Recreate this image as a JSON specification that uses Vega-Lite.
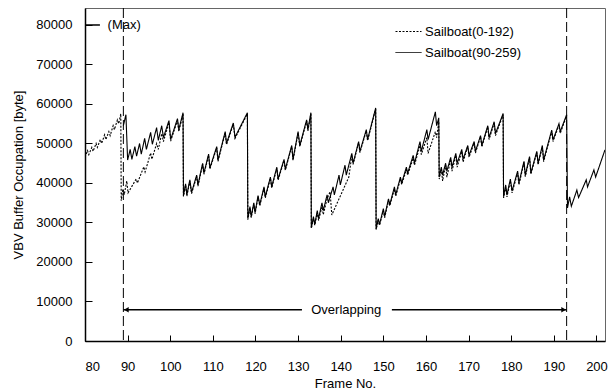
{
  "$schema": "https://vega.github.io/schema/vega-lite/v6.json",
  "autosize": "none",
  "width": 520,
  "height": 333,
  "padding": {"left": 85, "top": 8, "right": 5, "bottom": 51},
  "background": "white",
  "config": {
    "font": "Liberation Sans",
    "view": {"stroke": "#666", "strokeWidth": 1},
    "axis": {"domainColor": "black", "domainWidth": 1.5, "tickColor": "black", "labelColor": "black", "titleColor": "black", "labelFontSize": 13, "titleFontSize": 13, "titleFontWeight": "normal", "grid": false}
  },
  "datasets": {
    "trace": [
      {"f":80,"d":46500},{"f":80.6,"d":48200},{"f":80.9,"d":47200},{"f":81.6,"d":49000},{"f":81.9,"d":48000},{"f":82.6,"d":50000},{"f":82.9,"d":49000},{"f":83.6,"d":51000},{"f":83.9,"d":50000},{"f":84.6,"d":52200},{"f":84.9,"d":51000},{"f":85.6,"d":53000},{"f":85.9,"d":52000},{"f":86.6,"d":54500},{"f":86.9,"d":53500},{"f":87.6,"d":56000},{"f":87.9,"d":55000},{"f":88.4,"d":57500},{"f":88.5,"d":35500},{"f":88.9,"d":38500},{"f":89.0,"s":54500},{"f":89.2,"d":37000},{"f":89.6,"s":57300},{"f":89.8,"d":40500},{"f":90.0,"s":45800},{"f":90.1,"d":37500},{"f":90.6,"s":48500},{"f":91.0,"s":46000},{"f":91.7,"s":49200},{"f":92.0,"d":41000},{"f":92.1,"s":46800},{"f":92.3,"d":40000},{"f":92.8,"s":50000},{"f":93.2,"s":47300},{"f":93.8,"d":44100},{"f":94.0,"s":51300},{"f":94.1,"d":42800},{"f":94.4,"s":48500},{"f":95.4,"s":52800,"d":47600},{"f":95.7,"d":46000},{"f":95.8,"s":49800},{"f":96.8,"s":54000,"d":50000},{"f":97.2,"s":50800,"d":48500},
      {"f":98.0,"s":54500,"d":52500},{"f":98.4,"s":51500,"d":50500},{"f":99.7,"s":55800,"d":55300},{"f":100.1,"s":51000,"d":50600},{"f":101.7,"s":56300,"d":55900},{"f":102.0,"s":53500,"d":53000},{"f":103.0,"s":57800,"d":57500},{"f":103.1,"s":36800,"d":36600},
      {"f":103.6,"s":39800,"d":39500},{"f":103.9,"s":37000,"d":36700},{"f":104.6,"s":40800,"d":40500},{"f":105.0,"s":37600,"d":37300},{"f":106.2,"s":42000,"d":41700},{"f":106.5,"s":39500,"d":39200},{"f":107.6,"s":45000,"d":44700},{"f":107.9,"s":42500,"d":42200},{"f":109.0,"s":47300,"d":47000},{"f":109.3,"s":43800,"d":43500},{"f":110.9,"s":49200,"d":48900},{"f":111.2,"s":45800,"d":45500},{"f":112.9,"s":53000,"d":52700},{"f":113.2,"s":50000,"d":49700},{"f":114.8,"s":55200,"d":54900},{"f":115.2,"s":51600,"d":51300},{"f":118.1,"s":57800,"d":57500},{"f":118.2,"s":31000,"d":30700},
      {"f":118.7,"s":34000,"d":33700},{"f":119.0,"s":31500,"d":31200},{"f":119.6,"s":35000,"d":34700},{"f":119.9,"s":32500,"d":32200},{"f":120.6,"s":36800,"d":36500},{"f":121.0,"s":34500,"d":34200},{"f":122.0,"s":39000,"d":38700},{"f":122.3,"s":36500,"d":36200},{"f":123.5,"s":41500,"d":41200},{"f":123.8,"s":39000,"d":38700},{"f":125.0,"s":44000,"d":43700},{"f":125.3,"s":41000,"d":40700},{"f":126.7,"s":46000,"d":45700},{"f":127.0,"s":43500,"d":43200},{"f":128.5,"s":49500,"d":49200},{"f":128.8,"s":46000,"d":45700},{"f":130.0,"s":53000,"d":52700},{"f":130.4,"s":49500,"d":49200},{"f":132.0,"s":56000,"d":55700},{"f":132.3,"s":53500,"d":53200},{"f":133.0,"s":57800,"d":57500},{"f":133.1,"s":28700,"d":28500},
      {"f":133.6,"s":31500,"d":31000},{"f":133.9,"s":29500,"d":29300},{"f":134.5,"s":33000,"d":32500},{"f":134.8,"s":31000,"d":30500},{"f":135.6,"s":35000,"d":34000},{"f":135.9,"s":33000,"d":32000},{"f":136.8,"s":37000,"d":36000},{"f":137.1,"s":35000},{"f":137.5,"d":37800},{"f":137.9,"d":31900},{"f":138.2,"s":39000},{"f":138.5,"s":37000},{"f":139.6,"s":42000},{"f":139.9,"s":39500},{"f":141.0,"s":44500},{"f":141.3,"s":42000},{"f":141.9,"d":41500},{"f":142.6,"s":47500,"d":47000},{"f":142.9,"s":45000,"d":44700},{"f":144.2,"s":50500,"d":50200},{"f":144.5,"s":48000,"d":47700},{"f":146.0,"s":53500,"d":53200},{"f":146.3,"s":51000,"d":50700},{"f":148.2,"s":59000,"d":58700},{"f":148.3,"s":28400,"d":28200},
      {"f":148.8,"s":31000,"d":30600},{"f":149.1,"s":29500,"d":29300},{"f":150.0,"s":33500,"d":33000},{"f":150.3,"s":31500,"d":31200},{"f":151.2,"s":36000,"d":35500},{"f":151.5,"s":34500,"d":34200},{"f":152.6,"s":39000,"d":38500},{"f":152.9,"s":37000,"d":36600},{"f":154.0,"s":41500,"d":41000},{"f":154.3,"s":40000,"d":39600},{"f":155.4,"s":44000,"d":43400},{"f":155.7,"s":42500,"d":42000},{"f":157.0,"s":47000,"d":46300},{"f":157.3,"s":45000,"d":44500},{"f":158.6,"s":50500,"d":49500},{"f":158.9,"s":48000,"d":47200},{"f":160.2,"s":53500,"d":51500},{"f":160.5,"s":51000,"d":47500},{"f":162.2,"s":58000,"d":53000},{"f":162.5,"s":54500,"d":51500},{"f":163.0,"s":56500,"d":55500},{"f":163.1,"s":41500,"d":41000},
      {"f":163.6,"s":44000,"d":43500},{"f":163.9,"s":42000,"d":40500},{"f":164.6,"s":45000,"d":44500},{"f":164.9,"s":43000,"d":41500},{"f":165.8,"s":46500,"d":46000},{"f":166.1,"s":44000,"d":43000},{"f":167.0,"s":47500,"d":47000},{"f":167.3,"s":45000,"d":44000},{"f":168.4,"s":48500,"d":48000},{"f":168.7,"s":46000,"d":45300},{"f":169.8,"s":49500,"d":49200},{"f":170.1,"s":47000,"d":46500},{"f":171.3,"s":50500,"d":50200},{"f":171.6,"s":48000,"d":47600},{"f":172.8,"s":52000,"d":51700},{"f":173.1,"s":49500,"d":49100},{"f":174.5,"s":54500,"d":54200},{"f":174.8,"s":51500,"d":51000},{"f":176.0,"s":55500,"d":55200},{"f":176.3,"s":52500,"d":52000},{"f":178.1,"s":57600,"d":57300},{"f":178.2,"s":36500,"d":36200},
      {"f":178.7,"s":39500,"d":39000},{"f":179.0,"s":37000,"d":36500},{"f":179.8,"s":41000,"d":40500},{"f":180.2,"s":38000,"d":37500},{"f":181.5,"s":43000,"d":42600},{"f":181.8,"s":40000,"d":39500},{"f":183.0,"s":45500,"d":45200},{"f":183.3,"s":42000,"d":41600},{"f":184.3,"s":46700,"d":46400},{"f":184.6,"s":42500,"d":42200},{"f":186.0,"s":48000,"d":47700},{"f":186.3,"s":45000,"d":44600},{"f":187.3,"s":49500,"d":49200},{"f":187.6,"s":45800,"d":45400},{"f":189.5,"s":53400,"d":53100},{"f":189.8,"s":50900,"d":50500},{"f":191.2,"s":55000,"d":54700},{"f":191.5,"s":53000,"d":52600},{"f":193.0,"s":57300,"d":57000},
      {"f":193.2,"s":33700},{"f":193.7,"s":36500},{"f":194.1,"s":34100},{"f":195.4,"s":38200},{"f":195.8,"s":36300},{"f":197.6,"s":40800},{"f":197.9,"s":39000},{"f":199.4,"s":43300},{"f":199.8,"s":41500},{"f":202.0,"s":48400}
    ]
  },
  "layer": [
    {
      "data": {"name": "trace"},
      "transform": [
        {"fold": ["d", "s"], "as": ["k", "v"]},
        {"filter": "isValid(datum.v)"}
      ],
      "mark": {"type": "line", "color": "black", "strokeWidth": 1.1, "clip": true},
      "encoding": {
        "x": {"field": "f", "type": "quantitative", "scale": {"domain": [80, 202], "nice": false, "zero": false},
          "axis": {"title": "Frame No.", "values": [80,90,100,110,120,130,140,150,160,170,180,190,200], "tickSize": -6, "labelPadding": 25, "titleBaseline": "middle", "titleY": 42}},
        "y": {"field": "v", "type": "quantitative", "scale": {"domain": [0, 84300], "nice": false},
          "axis": {"title": "VBV Buffer Occupation [byte]", "values": [0,10000,20000,30000,40000,50000,60000,70000,80000], "format": "d", "tickSize": -7, "labelPadding": 20, "titlePadding": 10}},
        "strokeDash": {"field": "k", "type": "nominal",
          "scale": {"domain": ["d", "s"], "range": [[2, 1.5], [1, 0]]},
          "legend": {"title": null, "orient": "none", "legendX": 310, "legendY": 10, "symbolType": "stroke", "symbolSize": 676, "symbolStrokeColor": "black", "symbolStrokeWidth": 1, "labelFontSize": 13, "labelColor": "black", "rowPadding": -3, "labelOffset": 3,
            "labelExpr": "datum.label == 'd' ? 'Sailboat(0-192)' : 'Sailboat(90-259)'"}},
        "order": {"field": "f", "type": "quantitative"}
      }
    },
    {
      "data": {"values": [{"x": 89}, {"x": 193}]},
      "mark": {"type": "rule", "color": "black", "strokeWidth": 1, "strokeDash": [10, 4]},
      "encoding": {"x": {"field": "x", "type": "quantitative"}}
    },
    {
      "data": {"values": [{"x": 80, "x2": 83.5, "y": 80000}, {"x": 89, "x2": 130.9, "y": 7900}, {"x": 152, "x2": 193, "y": 7900}]},
      "mark": {"type": "rule", "color": "black", "strokeWidth": 1.5},
      "encoding": {"x": {"field": "x", "type": "quantitative"}, "x2": {"field": "x2"}, "y": {"field": "y", "type": "quantitative"}}
    },
    {
      "data": {"values": [{"x": 89.7, "y": 7900, "sh": "triangle-left"}, {"x": 192.3, "y": 7900, "sh": "triangle-right"}]},
      "mark": {"type": "point", "filled": true, "color": "black", "size": 30, "opacity": 1},
      "encoding": {"x": {"field": "x", "type": "quantitative"}, "y": {"field": "y", "type": "quantitative"},
        "shape": {"field": "sh", "type": "nominal", "scale": {"domain": ["triangle-left", "triangle-right"], "range": ["triangle-left", "triangle-right"]}, "legend": null}}
    },
    {
      "data": {"values": [{"x": 85.3, "y": 80000, "t": "(Max)"}]},
      "mark": {"type": "text", "align": "left", "baseline": "middle", "fontSize": 13, "color": "black"},
      "encoding": {"x": {"field": "x", "type": "quantitative"}, "y": {"field": "y", "type": "quantitative"}, "text": {"field": "t"}}
    },
    {
      "data": {"values": [{"x": 141.3, "y": 7900, "t": "Overlapping"}]},
      "mark": {"type": "text", "align": "center", "baseline": "middle", "fontSize": 13, "color": "black"},
      "encoding": {"x": {"field": "x", "type": "quantitative"}, "y": {"field": "y", "type": "quantitative"}, "text": {"field": "t"}}
    }
  ]
}
